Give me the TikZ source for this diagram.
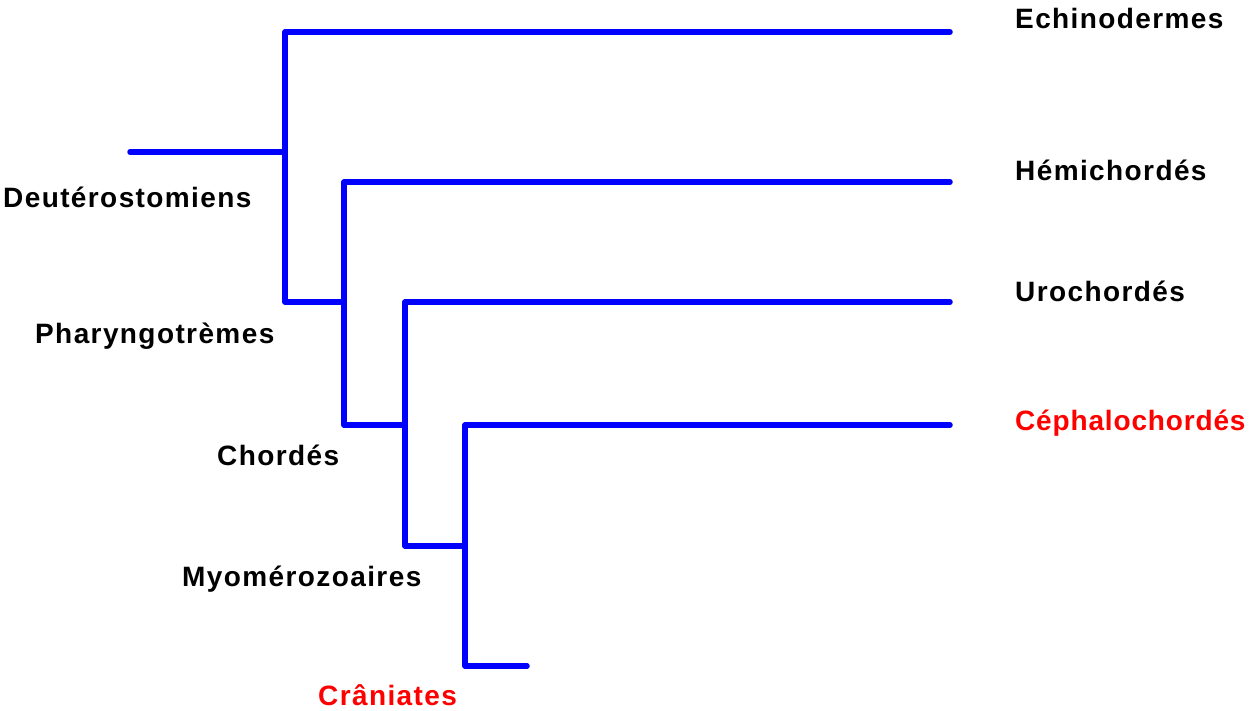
\documentclass[tikz,border=0pt]{standalone}
\usepackage{fontspec}
\setmainfont{Liberation Sans}[LetterSpace=5]
\newfontfamily\narrowsans{Liberation Sans}[LetterSpace=3]
\begin{document}
\begin{tikzpicture}[x=1pt,y=-1pt,
  branch/.style={draw={rgb,255:red,0;green,0;blue,255},line width=5.5pt,line cap=round,line join=round},
  lab/.style={anchor=base west,inner sep=0pt,font=\fontsize{28}{34}\selectfont\bfseries},
  redlab/.style={lab,text={rgb,255:red,255;green,0;blue,0}}]
\useasboundingbox (0,0) rectangle (1251,710);
% internal nodes
\coordinate (root) at (130,152);
\coordinate (n1) at (285,152);
\coordinate (n1t) at (285,32);
\coordinate (n1b) at (285,302);
\coordinate (n2) at (344,302);
\coordinate (n2t) at (344,182);
\coordinate (n2b) at (344,425);
\coordinate (n3) at (405,425);
\coordinate (n3t) at (405,302);
\coordinate (n3b) at (405,546);
\coordinate (n4) at (465,546);
\coordinate (n4t) at (465,425);
\coordinate (n4b) at (465,666);
\coordinate (echi) at (950,32);
\coordinate (hemi) at (950,182);
\coordinate (uro) at (950,302);
\coordinate (ceph) at (950,425);
\coordinate (cran) at (527,666);
% tree
\draw[branch] (root) -- (n1);
\draw[branch] (echi) -- (n1t) -- (n1b) -- (n2);
\draw[branch] (hemi) -- (n2t) -- (n2b) -- (n3);
\draw[branch] (uro) -- (n3t) -- (n3b) -- (n4);
\draw[branch] (ceph) -- (n4t) -- (n4b) -- (cran);
% labels
\node[lab] (lechi) at (1015,28) {Echinodermes};
\node[lab] (lhemi) at (1015,180) {Hémichordés};
\node[lab] (luro) at (1015,301) {Urochordés};
\node[redlab,font=\fontsize{28}{34}\narrowsans\bfseries] (lceph) at (1015,430) {Céphalochordés};
\node[lab] (ldeut) at (3,207) {Deutérostomiens};
\node[lab] (lphar) at (35,343) {Pharyngotrèmes};
\node[lab] (lchor) at (217,465) {Chordés};
\node[lab] (lmyo) at (182,586) {Myomérozoaires};
\node[redlab] (lcran) at (318,705) {Crâniates};
\end{tikzpicture}
\end{document}
